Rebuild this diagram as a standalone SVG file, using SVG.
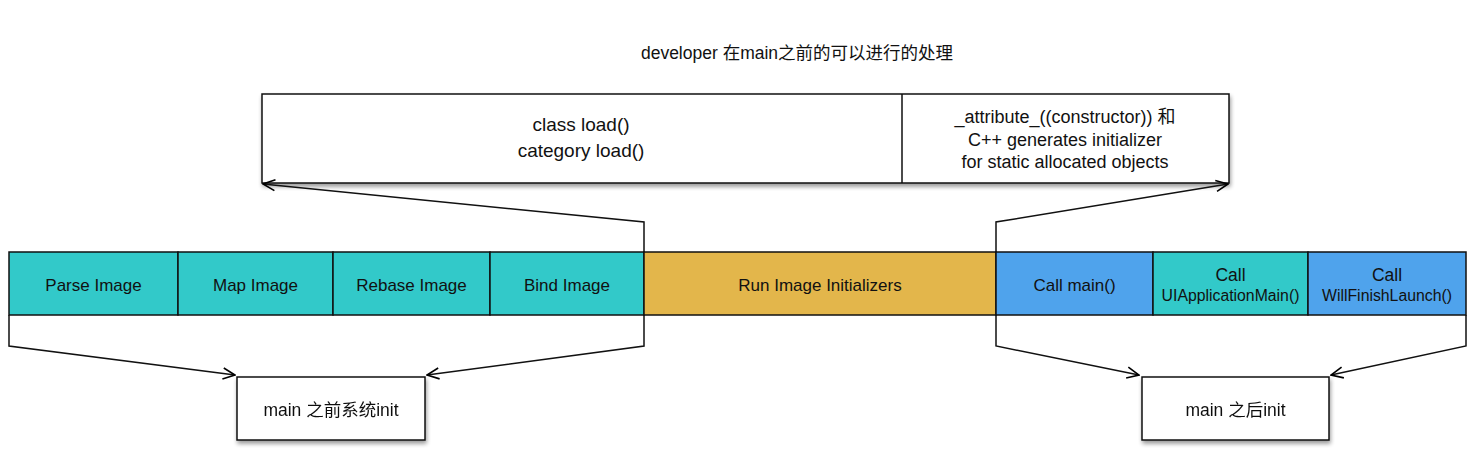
<svg xmlns="http://www.w3.org/2000/svg" width="1480" height="460" viewBox="0 0 1480 460">
<defs>
<marker id="arr" viewBox="0 0 14 14" refX="13" refY="7" markerWidth="14" markerHeight="14" markerUnits="userSpaceOnUse" orient="auto">
<path d="M1,1.5 L13,7 L1,12.5" fill="none" stroke="#000" stroke-width="1.6"/>
</marker>
<filter id="sh" x="-10%" y="-10%" width="125%" height="130%">
<feGaussianBlur in="SourceAlpha" stdDeviation="2"/>
<feOffset dx="1" dy="3" result="b"/>
<feComponentTransfer><feFuncA type="linear" slope="0.4"/></feComponentTransfer>
<feMerge><feMergeNode/><feMergeNode in="SourceGraphic"/></feMerge>
</filter>
</defs>
<style>
text{font-family:"Liberation Sans",Arial,"Noto Sans CJK SC",sans-serif;fill:#111;text-anchor:middle}
.t{font-size:17px}
.ti{font-size:17.5px}
.tl{font-size:19px}
.tr{font-size:18px}
.s{font-size:15.8px}
.box{stroke:#111;stroke-width:1.5}
.teal{fill:#32C9C9}
.gold{fill:#E3B64B}
.blue{fill:#4FA3EC}
.white{fill:#fff}
.conn{fill:none;stroke:#111;stroke-width:1.5}
</style>
<rect width="1480" height="460" fill="#fff"/>
<g id="title"><text class="ti" x="797" y="59">developer 在main之前的可以进行的处理</text></g>
<g id="top-box" filter="url(#sh)">
<rect class="box white" x="262" y="94" width="967" height="89"/>
<line class="box" x1="902" y1="94" x2="902" y2="183"/>
</g>
<g id="load-node"><text class="tl" x="581" y="131">class load()</text><text class="tl" x="581" y="157">category load()</text></g>
<g id="ctor-node"><text class="tr" x="1065" y="123">_attribute_((constructor)) 和</text><text class="tr" x="1065" y="146">C++ generates initializer</text><text class="tr" x="1065" y="168">for static allocated objects</text></g>
<g id="parse"><rect class="box teal" x="9" y="252" width="169" height="63"/><text class="t" x="93.5" y="291">Parse Image</text></g>
<g id="map"><rect class="box teal" x="178" y="252" width="155" height="63"/><text class="t" x="255.5" y="291">Map Image</text></g>
<g id="rebase"><rect class="box teal" x="333" y="252" width="157" height="63"/><text class="t" x="411.5" y="291">Rebase Image</text></g>
<g id="bind"><rect class="box teal" x="490" y="252" width="154" height="63"/><text class="t" x="567" y="291">Bind Image</text></g>
<g id="run"><rect class="box gold" x="644" y="252" width="352" height="63"/><text class="t" x="820" y="291">Run Image Initializers</text></g>
<g id="callmain"><rect class="box blue" x="996" y="252" width="157" height="63"/><text class="t" x="1074.5" y="291">Call main()</text></g>
<g id="uiapp"><rect class="box teal" x="1153" y="252" width="155" height="63"/><text class="ti" x="1230.5" y="281">Call</text><text class="s" x="1230.5" y="301">UIApplicationMain()</text></g>
<g id="willfinish"><rect class="box blue" x="1308" y="252" width="158" height="63"/><text class="ti" x="1387" y="281">Call</text><text class="s" x="1387" y="301">WillFinishLaunch()</text></g>
<g id="before-init" filter="url(#sh)"><rect class="box white" x="237" y="377" width="188" height="63"/><text class="ti" x="331" y="416">main 之前系统init</text></g>
<g id="after-init" filter="url(#sh)"><rect class="box white" x="1142" y="377" width="187" height="63"/><text class="ti" x="1235.5" y="416">main 之后init</text></g>
<g id="connectors">
<polyline class="conn" points="644,252 644,222 263,184" marker-end="url(#arr)"/>
<polyline class="conn" points="996,252 996,222 1228,184" marker-end="url(#arr)"/>
<polyline class="conn" points="9,315 9,346 235,375" marker-end="url(#arr)"/>
<polyline class="conn" points="644,315 644,346 427,375" marker-end="url(#arr)"/>
<polyline class="conn" points="996,315 996,346 1139,375" marker-end="url(#arr)"/>
<polyline class="conn" points="1466,315 1466,346 1331,375" marker-end="url(#arr)"/>
</g>
</svg>
